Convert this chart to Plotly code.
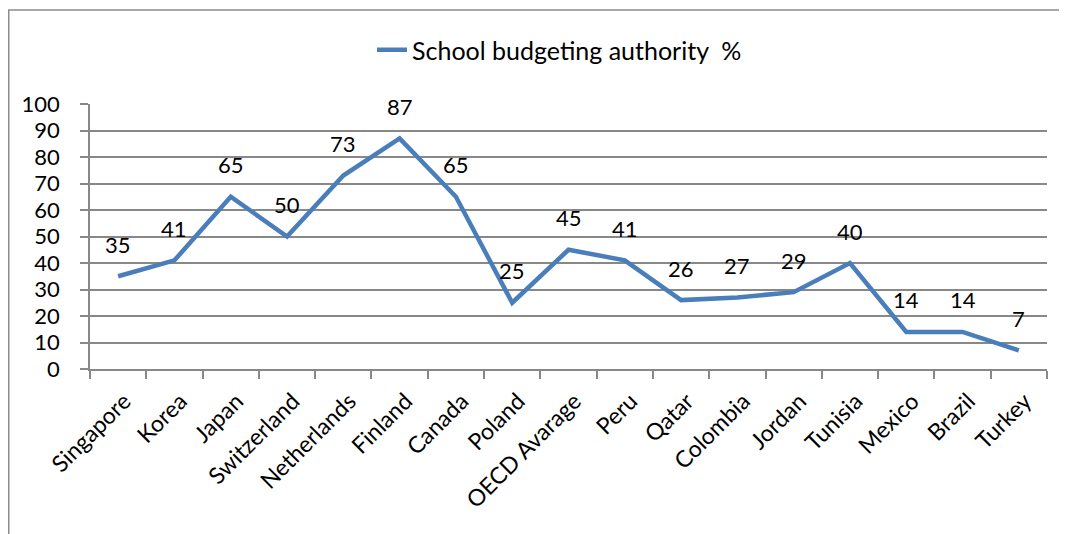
import plotly.graph_objects as go

countries = ["Singapore", "Korea", "Japan", "Switzerland", "Netherlands", "Finland",
             "Canada", "Poland", "OECD Avarage", "Peru", "Qatar", "Colombia", "Jordan",
             "Tunisia", "Mexico", "Brazil", "Turkey"]
values = [35, 41, 65, 50, 73, 87, 65, 25, 45, 41, 26, 27, 29, 40, 14, 14, 7]
series_name = "School budgeting authority  %"

FONT = "Lato"
GRID = "#888888"
LINE = "#4A7EBB"

OFF = 8  # page body margin
W, H = 1067, 534
# target pixel geometry in the screenshot
L, R, T, B = 90, 1047, 104, 369
ml = L - OFF
mr = W - (R - OFF)
mt = T - OFF
mb = H - (B - OFF)
pw = W - ml - mr
ph = H - mt - mb


def px_x(p):
    return (p - OFF - ml) / pw


def px_y(p):
    return (H - mb - (p - OFF)) / ph


fig = go.Figure()
fig.add_trace(go.Scatter(
    x=countries, y=values, mode="lines", name=series_name,
    line=dict(color=LINE, width=4.5),
))

annotations = []
for c, v in zip(countries, values):
    annotations.append(dict(x=c, y=v, xref="x", yref="y", text=str(v),
                            showarrow=False, yshift=32, yanchor="middle",
                            font=dict(family=FONT, size=22, color="black")))

fig.update_layout(
    width=W, height=H,
    margin=dict(l=ml, r=mr, t=mt, b=mb, autoexpand=False),
    paper_bgcolor="white", plot_bgcolor="white",
    font=dict(family=FONT, size=22, color="black"),
    showlegend=True,
    legend=dict(orientation="h", x=px_x(372), y=px_y(50), xanchor="left", yanchor="middle",
                font=dict(family=FONT, size=25, color="black"),
                bgcolor="rgba(0,0,0,0)"),
    annotations=annotations,
    shapes=[dict(type="rect", xref="paper", yref="paper",
                 x0=(0.75 - ml) / pw, x1=px_x(1090), y0=px_y(10), y1=px_y(560),
                 line=dict(color="#8c8c8c", width=1.5), fillcolor="rgba(0,0,0,0)",
                 layer="below")],
)
fig.update_yaxes(range=[0, 100], dtick=10, showgrid=True, gridcolor=GRID, gridwidth=1.5,
                 ticks="outside", ticklen=8, tickcolor=GRID, tickwidth=1.5,
                 showline=True, linecolor=GRID, linewidth=1.5, zeroline=False,
                 ticklabelstandoff=16,
                 tickfont=dict(family=FONT, size=22, color="black"))
fig.update_xaxes(type="category", range=[-0.5, len(countries) - 0.5],
                 tickangle=-45, showgrid=False,
                 ticks="outside", ticklen=8, tickcolor=GRID, tickwidth=1.5,
                 tickson="boundaries", ticklabelstandoff=8, ticklabelshift=6,
                 showline=True, linecolor=GRID, linewidth=1.5,
                 tickfont=dict(family=FONT, size=23, color="black"))

fig.write_html("out.html")
